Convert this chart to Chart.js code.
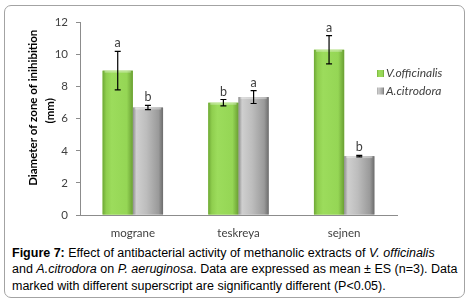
<!DOCTYPE html>
<html>
<head>
<meta charset="utf-8">
<script src="https://cdn.jsdelivr.net/npm/chart.js@4.4.0/dist/chart.umd.min.js"></script>
<style>
html, body { margin: 0; padding: 0; background: #fff; width: 471px; height: 300px; overflow: hidden; }
#frame { position: absolute; left: 4px; top: 5px; width: 459px; height: 291px; border: 1px solid #a3a3a3; border-radius: 7px; }
#plot { position: absolute; left: 0; top: 0; }
#caption { position: absolute; left: 12px; top: 244.5px; font-family: "Liberation Sans", Arial, sans-serif; font-size: 12.5px; line-height: 16.8px; color: #000; white-space: nowrap; }
</style>
</head>
<body>
<div id="frame"></div>
<canvas id="plot" width="471" height="242"></canvas>
<div id="caption"><b>Figure 7:</b> Effect of antibacterial activity of methanolic extracts of <i>V. officinalis</i><br>and <i>A.citrodora</i> on <i>P. aeruginosa</i>. Data are expressed as mean ± ES (n=3). Data<br>marked with different superscript are significantly different (P&lt;0.05).</div>
<script>
const categories = ['mograne', 'teskreya', 'sejnen'];
const vOfficinalis = [9.0, 7.0, 10.3];
const vOfficinalisErr = [1.2, 0.2, 0.88];
const vOfficinalisSig = ['a', 'b', 'a'];
const aCitrodora = [6.7, 7.35, 3.67];
const aCitrodoraErr = [0.13, 0.4, 0.05];
const aCitrodoraSig = ['b', 'a', 'b'];
const yTicks = [0, 2, 4, 6, 8, 10, 12];
const yTitle = ['Diameter of zone of inihibition', '(mm)'];

const greenShades = [[0, '#6ea836'], [0.12, '#8fce4e'], [0.3, '#9cdc5c'], [0.8, '#95d655'], [1, '#6a9f33']];
const grayShades = [[0, '#8e8e8e'], [0.12, '#cfcfcf'], [0.45, '#bdbdbd'], [0.85, '#9a9a9a'], [1, '#6c6c6c']];

function shade(ctx, l, r, stops) {
  const g = ctx.createLinearGradient(l, 0, r, 0);
  stops.forEach(s => g.addColorStop(s[0], s[1]));
  return g;
}

// repaint bars with a bevel-like horizontal gradient, using the bar elements' own geometry
const barShade = {
  id: 'barShade',
  afterDatasetsDraw(chart) {
    const ctx = chart.ctx;
    chart.data.datasets.forEach((ds, i) => {
      chart.getDatasetMeta(i).data.forEach(bar => {
        const l = bar.x - bar.width / 2;
        ctx.save();
        ctx.fillStyle = shade(ctx, l, l + bar.width, ds.shades);
        ctx.fillRect(l, bar.y, bar.width, bar.base - bar.y);
        ctx.fillStyle = 'rgba(255,255,255,0.35)';
        ctx.fillRect(l + 2, bar.y, bar.width - 4, 2);
        ctx.restore();
      });
    });
  }
};

// error bars and significance letters
const errorBars = {
  id: 'errorBars',
  afterDatasetsDraw(chart) {
    const ctx = chart.ctx;
    const y = chart.scales.y;
    chart.data.datasets.forEach((ds, i) => {
      chart.getDatasetMeta(i).data.forEach((bar, j) => {
        const v = ds.data[j], e = ds.err[j];
        const top = y.getPixelForValue(v + e), bot = y.getPixelForValue(v - e);
        ctx.save();
        ctx.strokeStyle = '#000';
        ctx.lineWidth = 1.2;
        ctx.beginPath();
        ctx.moveTo(bar.x, top); ctx.lineTo(bar.x, bot);
        ctx.moveTo(bar.x - 3, top); ctx.lineTo(bar.x + 3, top);
        ctx.moveTo(bar.x - 3, bot); ctx.lineTo(bar.x + 3, bot);
        ctx.stroke();
        ctx.fillStyle = '#404040';
        ctx.font = '12.5px Lato';
        ctx.textAlign = 'center';
        ctx.textBaseline = 'middle';
        ctx.fillText(ds.sig[j], bar.x, top - 8);
        ctx.restore();
      });
    });
  }
};

// legend sitting inside the right part of the plot
const sideLegend = {
  id: 'sideLegend',
  afterDraw(chart) {
    const { ctx, chartArea } = chart;
    const x = chartArea.right - 20;
    chart.data.datasets.forEach((ds, i) => {
      const yc = chartArea.top + 51 + i * 17.5;
      ctx.save();
      ctx.fillStyle = shade(ctx, x, x + 7, ds.shades);
      ctx.fillRect(x, yc - 3.5, 7, 7);
      ctx.fillStyle = '#404040';
      ctx.font = 'italic 12px Lato';
      ctx.textBaseline = 'middle';
      ctx.fillText(ds.label, x + 9, yc);
      ctx.restore();
    });
  }
};

// y axis title, a little above the plot centre as in the original
const yAxisTitle = {
  id: 'yAxisTitle',
  afterDraw(chart) {
    const { ctx, chartArea } = chart;
    const s = chart.scales.y;
    const cy = (chartArea.top + chartArea.bottom) / 2;
    ctx.save();
    ctx.fillStyle = '#000';
    ctx.font = 'bold 11.5px Lato';
    ctx.textAlign = 'center';
    ctx.textBaseline = 'middle';
    yTitle.forEach((t, i) => {
      ctx.save();
      ctx.translate(s.left + 8.5 + i * 17, cy - 11 + i * 3);
      ctx.rotate(-Math.PI / 2);
      ctx.fillText(t, 0, 0);
      ctx.restore();
    });
    ctx.restore();
  }
};

new Chart(document.getElementById('plot'), {
  type: 'bar',
  data: {
    labels: categories,
    datasets: [
      { label: 'V.officinalis', data: vOfficinalis, err: vOfficinalisErr, sig: vOfficinalisSig, shades: greenShades,
        backgroundColor: '#92d050' },
      { label: 'A.citrodora', data: aCitrodora, err: aCitrodoraErr, sig: aCitrodoraSig, shades: grayShades,
        backgroundColor: '#b2b2b2' }
    ]
  },
  options: {
    responsive: false,
    animation: false,
    layout: { padding: { left: 24.5, right: 74, top: 22.5, bottom: 0 } },
    datasets: { bar: { categoryPercentage: 0.572, barPercentage: 1 } },
    plugins: { legend: { display: false }, tooltip: { enabled: false } },
    scales: {
      x: {
        grid: { display: false, drawTicks: false },
        border: { display: true, color: '#8c8c8c', width: 1 },
        ticks: { color: '#404040', font: { family: 'Lato', size: 11.5 }, padding: 11.5 },
        afterFit(s) { s.height = 27; }
      },
      y: {
        min: yTicks[0],
        max: yTicks[yTicks.length - 1],
        ticks: { stepSize: yTicks[1] - yTicks[0], color: '#404040', font: { family: 'Lato', size: 11.5 }, padding: 8 },
        grid: { drawOnChartArea: false, drawTicks: true, tickLength: 4, color: '#8c8c8c' },
        border: { display: true, color: '#8c8c8c', width: 1 },
        title: { display: false },
        afterFit(s) { s.width = 55.5; }
      }
    }
  },
  plugins: [barShade, errorBars, sideLegend, yAxisTitle]
});
</script>
</body>
</html>
